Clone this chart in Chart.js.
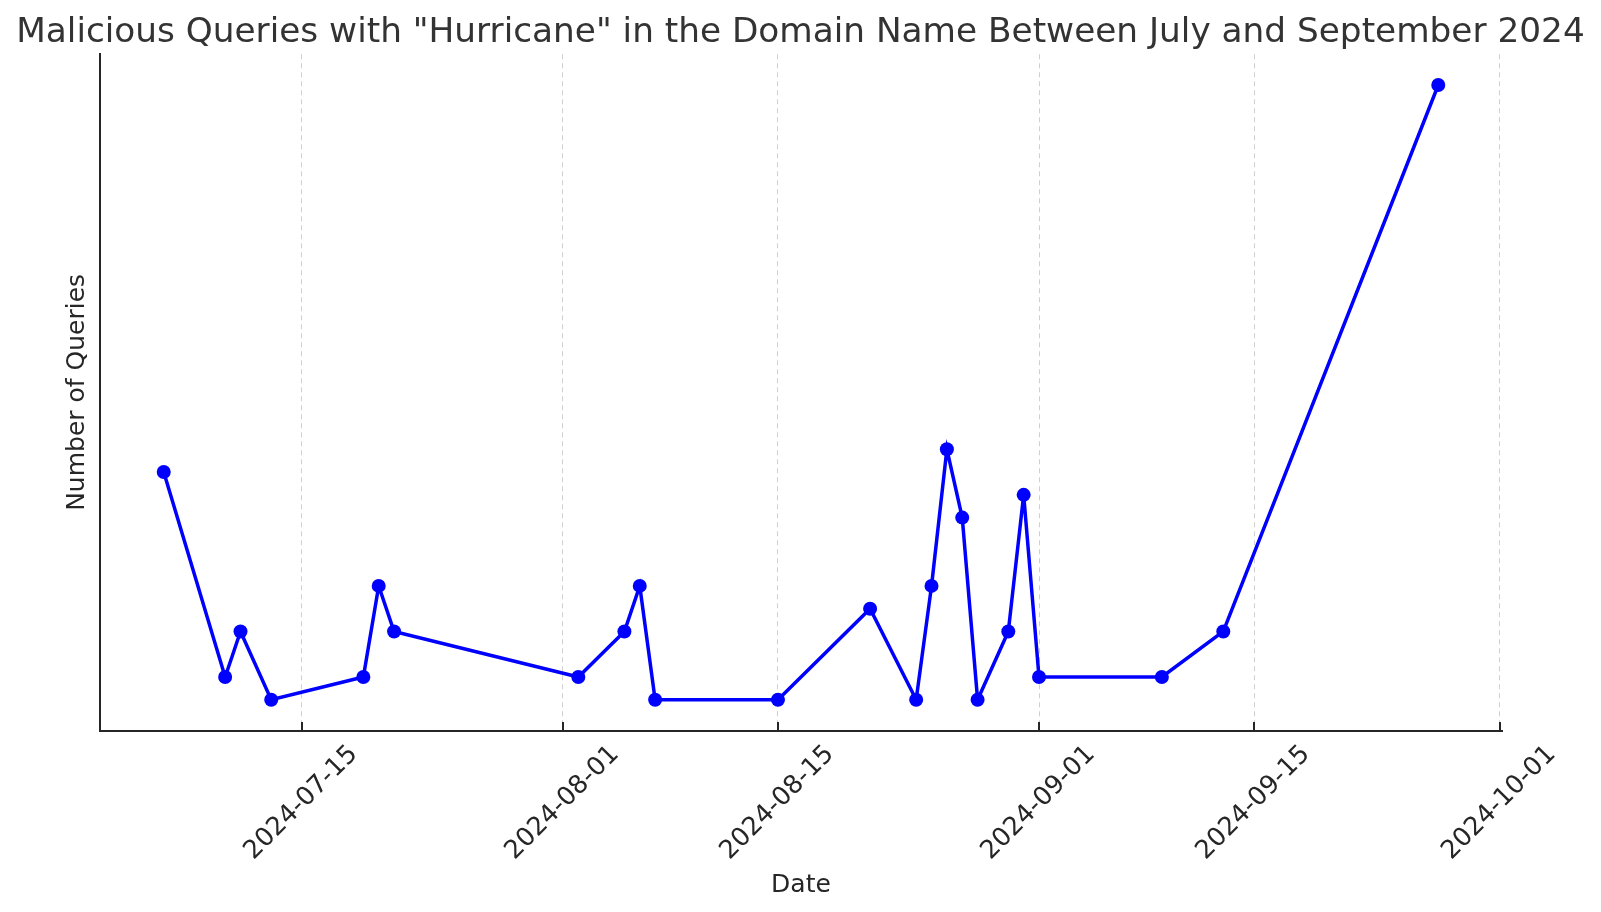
<!DOCTYPE html>
<html>
<head>
<meta charset="utf-8">
<script src="https://cdn.jsdelivr.net/npm/chart.js@4"></script>
<style>
  html, body { margin: 0; padding: 0; background: #ffffff; overflow: hidden; }
  #wrap { width: 1601px; height: 912px; }
</style>
</head>
<body>
<div id="wrap"><canvas id="c" width="1601" height="912"></canvas></div>
<script>
// ---- data ----
const dates = [
  '2024-07-06','2024-07-10','2024-07-11','2024-07-13','2024-07-19','2024-07-20','2024-07-21',
  '2024-08-02','2024-08-05','2024-08-06','2024-08-07','2024-08-15','2024-08-21','2024-08-24',
  '2024-08-25','2024-08-26','2024-08-27','2024-08-28','2024-08-30','2024-08-31','2024-09-01',
  '2024-09-09','2024-09-13','2024-09-27'
];
const queries = [11, 2, 4, 1, 2, 6, 4, 2, 4, 6, 1, 1, 5, 1, 6, 12, 9, 1, 4, 10, 2, 2, 4, 28];
const tickLabels = ['2024-07-15','2024-08-01','2024-08-15','2024-09-01','2024-09-15','2024-10-01'];

const titleText = 'Malicious Queries with "Hurricane" in the Domain Name Between July and September 2024';
const xTitle = 'Date';
const yTitle = 'Number of Queries';

// ---- helpers ----
function dayNum(s) {
  const [y, m, d] = s.split('-').map(Number);
  return Date.UTC(y, m - 1, d) / 86400000;
}
const points = dates.map((d, i) => ({ x: dayNum(d), y: queries[i] }));
const tickValues = tickLabels.map(dayNum);

const xs = points.map(p => p.x), ys = points.map(p => p.y);
const xRange = Math.max(...xs) - Math.min(...xs);
const yRange = Math.max(...ys) - Math.min(...ys);
const xMin = Math.min(...xs) - 0.05 * xRange, xMax = Math.max(...xs) + 0.05 * xRange;
const yMin = Math.min(...ys) - 0.05 * yRange, yMax = Math.max(...ys) + 0.05 * yRange;

const FONT = "'DejaVu Sans', 'Liberation Sans', sans-serif";
const textColor = '#262626';

const innerTicks = {
  id: 'innerTicks',
  afterDatasetsDraw(chart) {
    const sx = chart.scales.x;
    const ctx = chart.ctx;
    ctx.save();
    ctx.strokeStyle = '#262626';
    ctx.lineWidth = 2;
    sx.ticks.forEach(t => {
      const px = Math.round(sx.getPixelForValue(t.value));
      ctx.beginPath();
      ctx.moveTo(px, sx.top);
      ctx.lineTo(px, sx.top - 8.5);
      ctx.stroke();
    });
    ctx.restore();
  }
};

new Chart(document.getElementById('c'), {
  type: 'line',
  data: {
    datasets: [{
      data: points,
      borderColor: '#0000ff',
      backgroundColor: '#0000ff',
      borderWidth: 3.5,
      pointRadius: 7,
      pointHoverRadius: 7,
      pointBorderWidth: 0,
      tension: 0,
      fill: false
    }]
  },
  options: {
    responsive: false,
    animation: false,
    events: [],
    layout: { padding: { top: 10, left: 0, right: 0, bottom: 0 } },
    plugins: {
      legend: { display: false },
      tooltip: { enabled: false },
      title: {
        display: true,
        text: titleText,
        color: '#333333',
        font: { family: FONT, size: 34.3, weight: 'normal' },
        padding: { top: 2.8, bottom: 0.3 }
      }
    },
    scales: {
      x: {
        type: 'linear',
        min: xMin,
        max: xMax,
        afterBuildTicks: (scale) => { scale.ticks = tickValues.map(v => ({ value: v })); },
        afterFit: (scale) => { scale.height = 181.5; },
        ticks: {
          autoSkip: false,
          minRotation: 45,
          maxRotation: 45,
          padding: 9,
          labelOffset: 52,
          color: textColor,
          font: { family: FONT, size: 25.6 },
          callback: (value, index) => tickLabels[index]
        },
        grid: { display: true, drawTicks: false, color: '#cfcfcf', lineWidth: 1 },
        border: { display: true, color: '#262626', width: 2, dash: [5, 4] },
        title: {
          display: true,
          text: xTitle,
          color: textColor,
          font: { family: FONT, size: 25 },
          padding: { top: 0, bottom: 12 }
        }
      },
      y: {
        type: 'linear',
        position: 'left',
        min: yMin,
        max: yMax,
        afterFit: (scale) => { scale.width = 100; },
        ticks: { display: false },
        grid: { display: false },
        border: { display: true, color: '#262626', width: 2 },
        title: {
          display: true,
          text: yTitle,
          color: textColor,
          font: { family: FONT, size: 25 },
          padding: { top: 62.5, bottom: 0 }
        }
      },
      yRight: {
        type: 'linear',
        position: 'right',
        display: true,
        afterFit: (scale) => { scale.width = 99; },
        ticks: { display: false },
        grid: { display: false },
        border: { display: false }
      }
    }
  },
  plugins: [innerTicks]
});
</script>
</body>
</html>
